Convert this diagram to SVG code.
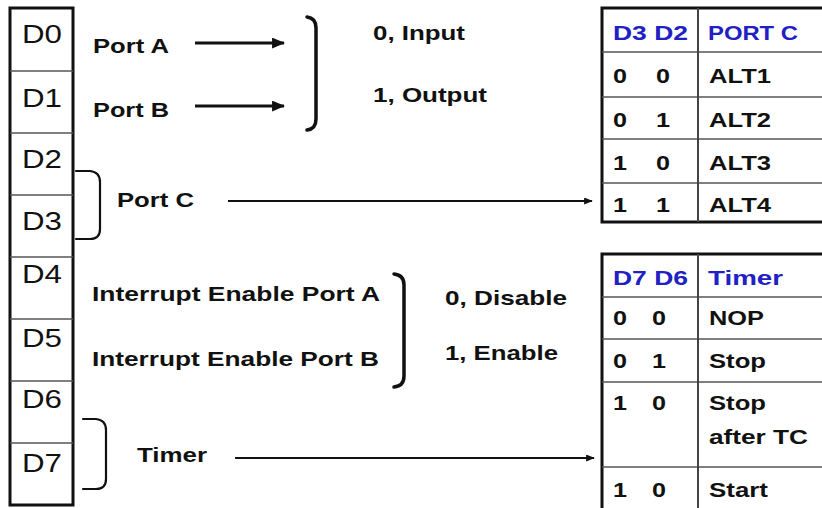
<svg xmlns="http://www.w3.org/2000/svg" width="822" height="508" viewBox="0 0 822 508">
  <defs>
    <style>
      .reg { font-family: "Liberation Sans", Arial, sans-serif; font-size: 25px; fill: #111; }
      .lbl { font-family: "Liberation Sans", Arial, sans-serif; font-size: 21px; font-weight: bold; fill: #111; }
      .hdr { font-family: "Liberation Sans", Arial, sans-serif; font-size: 21px; font-weight: bold; fill: #2020c4; }
      .box { fill: #fff; stroke: #111; stroke-width: 3; }
      .div { stroke: #555; stroke-width: 1.6; }
      .col { stroke: #444; stroke-width: 2; }
      .brace { fill: none; stroke: #111; stroke-linecap: round; }
      .wire { stroke: #111; fill: none; }
    </style>
    <marker id="headBig" viewBox="0 0 12 10" refX="11" refY="5" markerUnits="userSpaceOnUse" markerWidth="13" markerHeight="11" orient="auto">
      <path d="M0,0 L12,5 L0,10 Z" fill="#111"/>
    </marker>
    <marker id="headSmall" viewBox="0 0 10 8" refX="9" refY="4" markerUnits="userSpaceOnUse" markerWidth="9" markerHeight="7" orient="auto">
      <path d="M0,0 L10,4 L0,8 Z" fill="#111"/>
    </marker>
  </defs>

  <rect width="822" height="508" fill="#fff"/>

  <!-- control register bits D0..D7 -->
  <g id="register">
    <rect class="box" x="10" y="8" width="63" height="497"/>
    <line class="div" x1="10" y1="71" x2="73" y2="71"/>
    <line class="div" x1="10" y1="133" x2="73" y2="133"/>
    <line class="div" x1="10" y1="195" x2="73" y2="195"/>
    <line class="div" x1="10" y1="257" x2="73" y2="257"/>
    <line class="div" x1="10" y1="319" x2="73" y2="319"/>
    <line class="div" x1="10" y1="381" x2="73" y2="381"/>
    <line class="div" x1="10" y1="443" x2="73" y2="443"/>
    <text class="reg" x="22" y="43" textLength="40" lengthAdjust="spacingAndGlyphs">D0</text>
    <text class="reg" x="22" y="107" textLength="40" lengthAdjust="spacingAndGlyphs">D1</text>
    <text class="reg" x="22" y="168" textLength="40" lengthAdjust="spacingAndGlyphs">D2</text>
    <text class="reg" x="22" y="230" textLength="40" lengthAdjust="spacingAndGlyphs">D3</text>
    <text class="reg" x="22" y="283" textLength="40" lengthAdjust="spacingAndGlyphs">D4</text>
    <text class="reg" x="22" y="347" textLength="40" lengthAdjust="spacingAndGlyphs">D5</text>
    <text class="reg" x="22" y="408" textLength="40" lengthAdjust="spacingAndGlyphs">D6</text>
    <text class="reg" x="22" y="472" textLength="40" lengthAdjust="spacingAndGlyphs">D7</text>
  </g>

  <!-- Port A / Port B direction -->
  <g id="portAB">
    <text class="lbl" x="93" y="53" textLength="76" lengthAdjust="spacingAndGlyphs">Port A</text>
    <text class="lbl" x="93" y="117" textLength="76" lengthAdjust="spacingAndGlyphs">Port B</text>
    <path class="brace" stroke-width="3.5" d="M307,17 Q316,18 316,28 L316,119 Q316,129 307,130"/>
    <text class="lbl" x="373" y="40" textLength="92" lengthAdjust="spacingAndGlyphs">0, Input</text>
    <text class="lbl" x="373" y="102" textLength="114" lengthAdjust="spacingAndGlyphs">1, Output</text>
  </g>

  <!-- Port C selection -->
  <g id="portC">
    <path class="brace" stroke-width="2.2" d="M76,171 L90,171 Q100,172 100,182 L100,229 Q100,239 90,239 L76,239"/>
    <text class="lbl" x="117" y="207" textLength="77" lengthAdjust="spacingAndGlyphs">Port C</text>
  </g>

  <!-- Interrupt enables -->
  <g id="interrupts">
    <text class="lbl" x="92" y="301" textLength="288" lengthAdjust="spacingAndGlyphs">Interrupt Enable Port A</text>
    <text class="lbl" x="92" y="366" textLength="287" lengthAdjust="spacingAndGlyphs">Interrupt Enable Port B</text>
    <path class="brace" stroke-width="3.5" d="M394,274 Q404,275 404,285 L404,376 Q404,386 394,387"/>
    <text class="lbl" x="445" y="305" textLength="122" lengthAdjust="spacingAndGlyphs">0, Disable</text>
    <text class="lbl" x="445" y="360" textLength="113" lengthAdjust="spacingAndGlyphs">1, Enable</text>
  </g>

  <!-- Timer selection -->
  <g id="timer">
    <path class="brace" stroke-width="2.2" d="M83,419 L96,419 Q106,420 106,430 L106,479 Q106,489 96,489 L83,489"/>
    <text class="lbl" x="137" y="462" textLength="70" lengthAdjust="spacingAndGlyphs">Timer</text>
  </g>

  <!-- Port C mode table -->
  <g id="tablePortC">
    <rect class="box" x="602" y="8" width="240" height="214"/>
    <line class="div" x1="602" y1="52" x2="842" y2="52"/>
    <line class="div" x1="602" y1="97" x2="842" y2="97"/>
    <line class="div" x1="602" y1="139" x2="842" y2="139"/>
    <line class="div" x1="602" y1="183" x2="842" y2="183"/>
    <line class="col" x1="698" y1="8" x2="698" y2="222"/>
    <text class="hdr" x="613" y="40" textLength="75" lengthAdjust="spacingAndGlyphs">D3 D2</text>
    <text class="hdr" x="708" y="40" textLength="90" lengthAdjust="spacingAndGlyphs">PORT C</text>
    <text class="lbl" x="613" y="83" textLength="14" lengthAdjust="spacingAndGlyphs">0</text><text class="lbl" x="656" y="83" textLength="14" lengthAdjust="spacingAndGlyphs">0</text>
    <text class="lbl" x="709" y="83" textLength="62" lengthAdjust="spacingAndGlyphs">ALT1</text>
    <text class="lbl" x="613" y="127" textLength="14" lengthAdjust="spacingAndGlyphs">0</text><text class="lbl" x="656" y="127" textLength="14" lengthAdjust="spacingAndGlyphs">1</text>
    <text class="lbl" x="709" y="127" textLength="62" lengthAdjust="spacingAndGlyphs">ALT2</text>
    <text class="lbl" x="613" y="170" textLength="14" lengthAdjust="spacingAndGlyphs">1</text><text class="lbl" x="656" y="170" textLength="14" lengthAdjust="spacingAndGlyphs">0</text>
    <text class="lbl" x="709" y="170" textLength="62" lengthAdjust="spacingAndGlyphs">ALT3</text>
    <text class="lbl" x="613" y="212" textLength="14" lengthAdjust="spacingAndGlyphs">1</text><text class="lbl" x="656" y="212" textLength="14" lengthAdjust="spacingAndGlyphs">1</text>
    <text class="lbl" x="709" y="212" textLength="62" lengthAdjust="spacingAndGlyphs">ALT4</text>
  </g>

  <!-- Timer mode table -->
  <g id="tableTimer">
    <rect class="box" x="602" y="254" width="240" height="270"/>
    <line class="div" x1="602" y1="297" x2="842" y2="297"/>
    <line class="div" x1="602" y1="339" x2="842" y2="339"/>
    <line class="div" x1="602" y1="382" x2="842" y2="382"/>
    <line class="div" x1="602" y1="467" x2="842" y2="467"/>
    <line class="col" x1="698" y1="254" x2="698" y2="510"/>
    <text class="hdr" x="613" y="285" textLength="75" lengthAdjust="spacingAndGlyphs">D7 D6</text>
    <text class="hdr" x="708" y="285" textLength="75" lengthAdjust="spacingAndGlyphs">Timer</text>
    <text class="lbl" x="613" y="325" textLength="14" lengthAdjust="spacingAndGlyphs">0</text><text class="lbl" x="652" y="325" textLength="14" lengthAdjust="spacingAndGlyphs">0</text>
    <text class="lbl" x="709" y="325" textLength="55" lengthAdjust="spacingAndGlyphs">NOP</text>
    <text class="lbl" x="613" y="368" textLength="14" lengthAdjust="spacingAndGlyphs">0</text><text class="lbl" x="652" y="368" textLength="14" lengthAdjust="spacingAndGlyphs">1</text>
    <text class="lbl" x="709" y="368" textLength="57" lengthAdjust="spacingAndGlyphs">Stop</text>
    <text class="lbl" x="613" y="410" textLength="14" lengthAdjust="spacingAndGlyphs">1</text><text class="lbl" x="652" y="410" textLength="14" lengthAdjust="spacingAndGlyphs">0</text>
    <text class="lbl" x="709" y="410" textLength="57" lengthAdjust="spacingAndGlyphs">Stop</text>
    <text class="lbl" x="709" y="444" textLength="99" lengthAdjust="spacingAndGlyphs">after TC</text>
    <text class="lbl" x="613" y="497" textLength="14" lengthAdjust="spacingAndGlyphs">1</text><text class="lbl" x="652" y="497" textLength="14" lengthAdjust="spacingAndGlyphs">0</text>
    <text class="lbl" x="709" y="497" textLength="59" lengthAdjust="spacingAndGlyphs">Start</text>
  </g>

  <!-- connectors -->
  <g id="connectors">
    <line class="wire" stroke-width="3" x1="195" y1="43" x2="284" y2="43" marker-end="url(#headBig)"/>
    <line class="wire" stroke-width="3" x1="195" y1="106" x2="284" y2="106" marker-end="url(#headBig)"/>
    <line class="wire" stroke-width="2" x1="228" y1="201" x2="592" y2="201" marker-end="url(#headSmall)"/>
    <line class="wire" stroke-width="2" x1="235" y1="458" x2="594" y2="458" marker-end="url(#headSmall)"/>
  </g>
</svg>
